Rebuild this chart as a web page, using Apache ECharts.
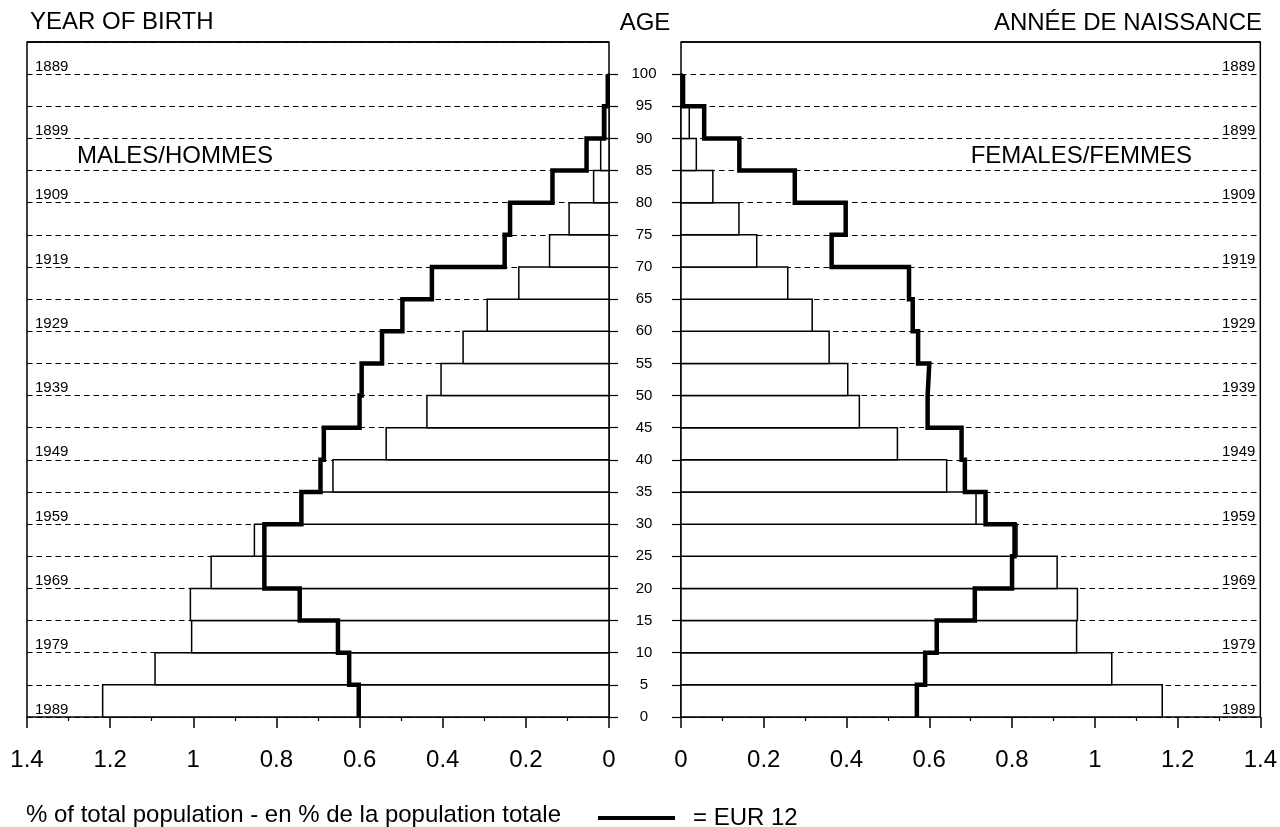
<!DOCTYPE html>
<html><head><meta charset="utf-8">
<script src="https://cdn.jsdelivr.net/npm/echarts@6/dist/echarts.min.js"></script>
<style>html,body{margin:0;padding:0;background:#fff}#c{width:1280px;height:827px}</style>
</head><body><div id="c"></div>
<script>
// Age groups (start of each 5-year band)
const ageGroupStarts = [0,5,10,15,20,25,30,35,40,45,50,55,60,65,70,75,80,85,90,95];
// Age tick values shown on the axis
const ageTicks = [0,5,10,15,20,25,30,35,40,45,50,55,60,65,70,75,80,85,90,95,100];
// Year-of-birth labels placed at ages 0,10,...,100
const yearTickAges = [0,10,20,30,40,50,60,70,80,90,100];
const birthYearLabels = ['1989','1979','1969','1959','1949','1939','1929','1919','1909','1899','1889'];
const AGE_MAX = 105;

// % of total population, by age band (0-5 ... 95-100)
const malesCountry = [1.218,1.092,1.004,1.007,0.957,0.853,0.740,0.664,0.536,0.438,0.404,0.351,0.293,0.217,0.143,0.096,0.037,0.020,0.008,0.002];
const malesEUR12   = [0.602,0.625,0.652,0.744,0.829,0.829,0.740,0.694,0.686,0.600,0.595,0.546,0.497,0.426,0.251,0.238,0.136,0.054,0.012,0.003];
const femalesCountry = [1.163,1.041,0.956,0.958,0.909,0.812,0.713,0.642,0.523,0.431,0.403,0.358,0.317,0.258,0.183,0.140,0.077,0.037,0.020,0.003];
const femalesEUR12   = [0.570,0.590,0.618,0.710,0.800,0.806,0.736,0.686,0.678,0.596,0.600,0.573,0.560,0.551,0.364,0.398,0.275,0.141,0.056,0.005];

const FONT = "'Liberation Sans', Arial, Helvetica, sans-serif";
const BAND = 5;

function barData(vals){ return ageGroupStarts.map((a,i)=>[vals[i], a, a+BAND]); }
function stepData(vals){ return ageGroupStarts.flatMap((a,i)=>[[vals[i], a],[vals[i], a+BAND]]); }

function renderBar(params, api){
  const v = api.value(0), a0 = api.value(1), a1 = api.value(2);
  const p0 = api.coord([0, a0]);
  const p1 = api.coord([v, a1]);
  return {
    type:'rect',
    shape:{x:Math.min(p0[0],p1[0]), y:Math.min(p0[1],p1[1]), width:Math.abs(p1[0]-p0[0]), height:Math.abs(p1[1]-p0[1])},
    style:{fill:'#fff', stroke:'#000', lineWidth:1.5}
  };
}

function dashed(){ return {show:true, lineStyle:{color:'#000', width:1.2, type:[5.5,4]}}; }
function topBorder(){
  return {silent:true, symbol:'none', label:{show:false}, lineStyle:{color:'#000', width:1.5, type:'solid'},
          data:[{yAxis:AGE_MAX}]};
}

function xAx(grid, inverse){
  return {
    gridIndex:grid, type:'value', min:0, max:1.4, interval:0.2, inverse:inverse,
    position:'bottom', offset:5,
    axisLine:{show:false},
    axisTick:{show:true, length:11, lineStyle:{color:'#000', width:1.5}},
    minorTick:{show:true, splitNumber:2, length:4, lineStyle:{color:'#000', width:1.2}},
    axisLabel:{fontSize:24, color:'#000', margin:26, fontFamily:FONT},
    splitLine:{show:false}, minorSplitLine:{show:false}
  };
}
function yearFmt(v){ const i = yearTickAges.indexOf(v); return i>=0 ? birthYearLabels[i] : ''; }

const option = {
  animation:false,
  backgroundColor:'#fff',
  textStyle:{fontFamily:FONT},
  grid:[
    {left:27, top:42, width:582, height:675, show:true, borderColor:'#000', borderWidth:1.5, containLabel:false},
    {left:681, top:42, width:581, height:675, show:true, borderColor:'#000', borderWidth:1.5, containLabel:false}
  ],
  xAxis:[ xAx(0,true), xAx(1,false) ],
  yAxis:[
    {gridIndex:0, type:'value', min:0, max:AGE_MAX, interval:5, position:'left',
     axisLine:{show:false}, axisTick:{show:false},
     axisLabel:{show:true, inside:true, margin:8, fontSize:15, color:'#000', fontFamily:FONT, verticalAlign:'bottom', customValues:yearTickAges, formatter:yearFmt},
     splitLine:dashed()},
    {gridIndex:0, type:'value', min:0, max:AGE_MAX, interval:5, position:'right',
     axisLine:{show:false},
     axisTick:{show:true, length:9, customValues:ageTicks, lineStyle:{color:'#000', width:1.2}},
     axisLabel:{show:false}, splitLine:{show:false}},
    {gridIndex:1, type:'value', min:0, max:AGE_MAX, interval:5, position:'left',
     axisLine:{show:false},
     axisTick:{show:true, length:9, customValues:ageTicks, lineStyle:{color:'#000', width:1.2}},
     axisLabel:{show:true, customValues:ageTicks, align:'center', margin:37, fontSize:15, color:'#000', fontFamily:FONT},
     splitLine:dashed()},
    {gridIndex:1, type:'value', min:0, max:AGE_MAX, interval:5, position:'right',
     axisLine:{show:false}, axisTick:{show:false},
     axisLabel:{show:true, inside:true, margin:5, fontSize:15, color:'#000', fontFamily:FONT, align:'right', verticalAlign:'bottom', customValues:yearTickAges, formatter:yearFmt},
     splitLine:{show:false}}
  ],
  legend:{
    data:['EUR 12'], left:593, top:801, icon:'rect', itemWidth:77, itemHeight:4,
    selectedMode:false, formatter:'= EUR 12',
    textStyle:{fontSize:24, color:'#000', fontFamily:FONT, padding:[0,0,0,13]}
  },
  graphic:[
    {type:'text', x:30, y:22, style:{text:'YEAR OF BIRTH', fontSize:24, fill:'#000', fontFamily:FONT, textAlign:'left', textVerticalAlign:'middle'}},
    {type:'text', x:645, y:23, style:{text:'AGE', fontSize:24, fill:'#000', fontFamily:FONT, textAlign:'center', textVerticalAlign:'middle'}},
    {type:'text', x:1262, y:23, style:{text:'ANNÉE DE NAISSANCE', fontSize:24, fill:'#000', fontFamily:FONT, textAlign:'right', textVerticalAlign:'middle'}},
    {type:'text', x:77, y:156, z:10, style:{text:'MALES/HOMMES', fontSize:24, fill:'#000', fontFamily:FONT, textAlign:'left', textVerticalAlign:'middle'}},
    {type:'text', x:1192, y:156, z:10, style:{text:'FEMALES/FEMMES', fontSize:24, fill:'#000', fontFamily:FONT, textAlign:'right', textVerticalAlign:'middle'}},
    {type:'text', x:26, y:815, style:{text:'% of total population - en % de la population totale', fontSize:24, fill:'#000', fontFamily:FONT, textAlign:'left', textVerticalAlign:'middle'}}
  ],
  series:[
    {type:'custom', xAxisIndex:0, yAxisIndex:0, data:barData(malesCountry), renderItem:renderBar, encode:{x:0, y:[1,2]}, z:2, silent:true,
     markLine:topBorder()},
    {type:'line', name:'EUR 12', xAxisIndex:0, yAxisIndex:0, data:stepData(malesEUR12), symbol:'none', showSymbol:false,
     lineStyle:{color:'#000', width:4.5, join:'miter', cap:'butt'}, itemStyle:{color:'#000'}, z:3, silent:true},
    {type:'custom', xAxisIndex:1, yAxisIndex:2, data:barData(femalesCountry), renderItem:renderBar, encode:{x:0, y:[1,2]}, z:2, silent:true,
     markLine:topBorder()},
    {type:'line', name:'EUR 12', xAxisIndex:1, yAxisIndex:2, data:stepData(femalesEUR12), symbol:'none', showSymbol:false,
     lineStyle:{color:'#000', width:4.5, join:'miter', cap:'butt'}, itemStyle:{color:'#000'}, z:3, silent:true}
  ]
};
const chart = echarts.init(document.getElementById('c'), null, {renderer:'canvas'});
chart.setOption(option);
</script>
</body></html>
